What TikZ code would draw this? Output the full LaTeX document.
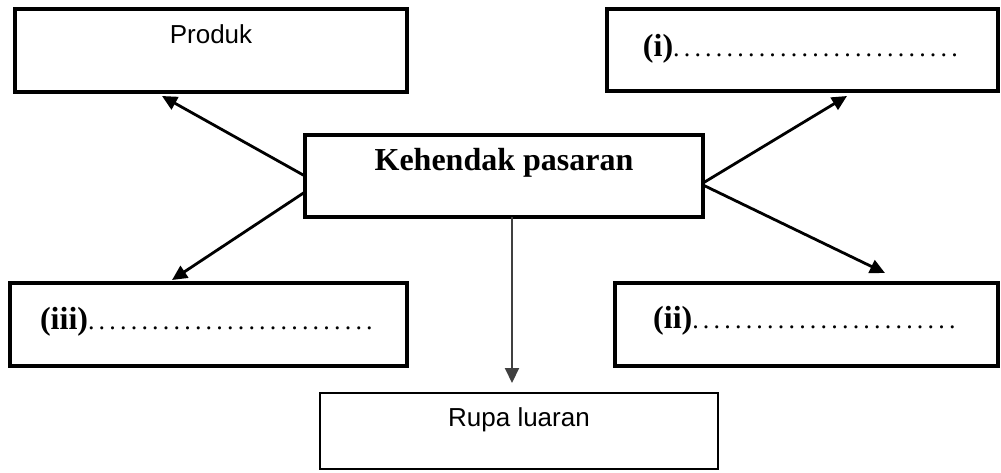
\documentclass[tikz,border=0pt]{standalone}
\usepackage{fontspec}
\setmainfont{Liberation Serif}
\newfontfamily\arialfont{Liberation Sans}
\usetikzlibrary{calc,arrows.meta}
\newcommand{\titik}[1]{{\fontsize{26}{30}\selectfont\foreach \k in {1,...,#1}{.\kern4.2pt}}}

\begin{document}
\begin{tikzpicture}[
    x=1pt, y=-1pt,
    kotak/.style={draw, line width=4pt, inner ysep=0pt, outer sep=0pt, anchor=north west},
    kotaknipis/.style={kotak, line width=2.5pt},
    tulisanserif/.style={font=\fontsize{32}{38}\selectfont},
    tulisansans/.style={font=\fontsize{26}{31}\selectfont\arialfont},
    anak/.style={-{Triangle[length=15pt,width=14pt]}, line width=2.8pt}
]
\useasboundingbox (0,0) rectangle (1001,472);

% kotak-kotak
\node[kotak, tulisansans, minimum width=392pt, text height=34pt, text depth=49pt] (produk) at (15,9) {Produk};
\node[kotak, tulisanserif, minimum width=391pt, text height=47pt, text depth=35pt] (satu) at (607,9) {\textbf{(i)}\titik{27}};
\node[kotak, tulisanserif, minimum width=398pt, text height=35pt, text depth=47pt] (pasaran) at (305,135) {\textbf{Kehendak pasaran}};
\node[kotak, tulisanserif, minimum width=397pt, text height=46pt, text depth=37pt] (tiga) at (10,283) {\textbf{(iii)}\titik{27}};
\node[kotak, tulisanserif, minimum width=383pt, text height=45pt, text depth=38pt] (dua) at (615,283) {\textbf{(ii)}\titik{25}};
\node[kotaknipis, tulisansans, minimum width=398pt, text height=33pt, text depth=43pt] (rupa) at (320,393) {Rupa luaran};

% hujung anak panah
\coordinate (ujungprod) at (162,96);
\coordinate (ujungsatu) at (847,96);
\coordinate (ujungtiga) at (172,280);
\coordinate (ujungdua) at (885,273);
\coordinate (ujungrupa) at (512,383);

\draw[anak] (pasaran.west) -- (ujungprod);
\draw[anak] ($(pasaran.west)+(0,16)$) -- (ujungtiga);
\draw[anak] ($(pasaran.east)+(0,7)$) -- (ujungsatu);
\draw[anak] ($(pasaran.east)+(0,9)$) -- (ujungdua);
\draw[anak, line width=2pt, black!75] (pasaran.south -| ujungrupa) -- (ujungrupa);
\end{tikzpicture}
\end{document}
